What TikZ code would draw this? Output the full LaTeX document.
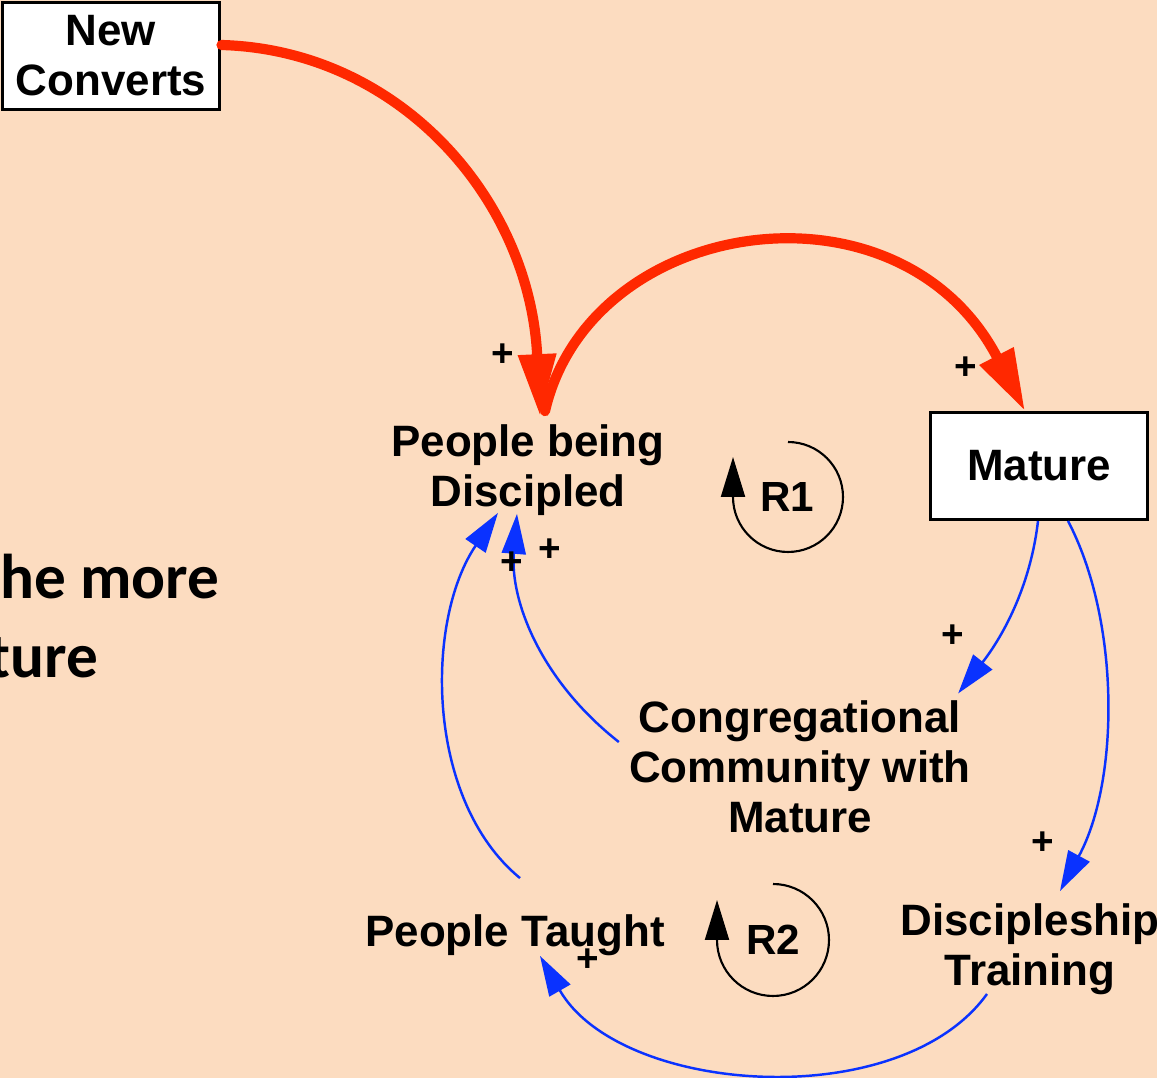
\documentclass[tikz,border=0pt]{standalone}
\usepackage{fontspec}
\setmainfont{Liberation Sans}
\newfontfamily\slidefont{Carlito}
\usepackage{xcolor}
\usepackage{tikz}
\usetikzlibrary{arrows.meta}
\definecolor{peach}{RGB}{252,220,192}
\definecolor{flowred}{RGB}{255,40,0}
\definecolor{linkblue}{RGB}{10,50,255}
\tikzset{
  stock/.style={rectangle, draw, line width=1.7pt, fill=white, align=center, minimum width=4.36cm, minimum height=2.14cm, font=\bfseries\fontsize{25}{28.5}\selectfont},
  var/.style={align=center, inner sep=0pt, font=\bfseries\fontsize{25}{28.5}\selectfont},
  sign/.style={inner sep=0pt, font=\bfseries\fontsize{22}{22}\selectfont},
  loopmark/.style={inner sep=0pt, font=\bfseries\fontsize{24}{24}\selectfont},
  slidetext/.style={anchor=base west, inner sep=0pt, font=\slidefont\bfseries\fontsize{36}{36}\selectfont},
  redline/.style={-{Triangle[length=1.24cm, width=0.72cm]}, line width=5.8pt, line cap=round, draw=flowred},
  blueline/.style={-{Triangle[length=0.8cm, width=0.48cm]}, line width=1.4pt, draw=linkblue},
  loopline/.style={-{Triangle[length=0.8cm, width=0.48cm]}, line width=1.2pt}
}
\begin{document}
\begin{tikzpicture}[x=0.02cm, y=-0.02cm]
  \fill[peach] (0,0) rectangle (1157,1078);
  \useasboundingbox (0,0) rectangle (1157,1078);
  \node[slidetext] (more) at (0,598) {he more};
  \node[slidetext] (ture) at (-12,677) {ture};
  \node[stock] (converts) at (111,56) {New\\Converts};
  \node[stock] (mature) at (1039,466) {Mature};
  \node[var] (discipled) at (528,470) {People being\\Discipled};
  \node[var] (community) at (800,767) {Congregational\\Community with\\Mature};
  \node[var] (training) at (1030,949) {Discipleship\\Training};
  \node[var] (taught) at (515,935) {People Taught};
  \node[loopmark] (r1) at (787,497) {R1};
  \node[loopmark] (r2) at (773,940) {R2};
  \draw[loopline] ([shift={(1,-55)}]r1.center) arc[start angle=90, end angle=-180, radius=1.1cm] -- ++(0,0.8cm);
  \draw[loopline] ([shift={(0,-56)}]r2.center) arc[start angle=90, end angle=-180, radius=1.12cm] -- ++(0,0.8cm);
  \draw[redline] ([shift={(0,-11)}]converts.east) .. controls (400,50) and (530,200) .. ([shift={(12,-8)}]discipled.north);
  \draw[redline] ([shift={(17,-13)}]discipled.north) .. controls (590,215) and (900,170) .. ([shift={(-14,0)}]mature.north);
  \draw[blueline] ([shift={(-1,0)}]mature.south) .. controls (1030,590) and (1000,640) .. ([shift={(-13,-7)}]community.north east);
  \draw[blueline] ([shift={(29,0)}]mature.south) .. controls (1120,620) and (1120,780) .. ([shift={(30,-12)}]training.north);
  \draw[blueline] ([shift={(-43,-1)}]training.south) .. controls (900,1115) and (620,1095) .. ([shift={(25,0)}]taught.south);
  \draw[blueline] ([shift={(5,-36)}]taught.north) .. controls (425,800) and (425,620) .. ([shift={(-30,-3)}]discipled.south);
  \draw[blueline] ([shift={(-10,-25)}]community.west) .. controls (540,680) and (510,600) .. ([shift={(-11,-2)}]discipled.south);
  \node[sign] (p1) at (503,355) {+};
  \node[sign] (p2) at (966,368) {+};
  \node[sign] (p3) at (953,636) {+};
  \node[sign] (p4) at (1043,843) {+};
  \node[sign] (p5) at (588,960) {+};
  \node[sign] (p6) at (512,563) {+};
  \node[sign] (p7) at (550,550) {+};
\end{tikzpicture}
\end{document}
